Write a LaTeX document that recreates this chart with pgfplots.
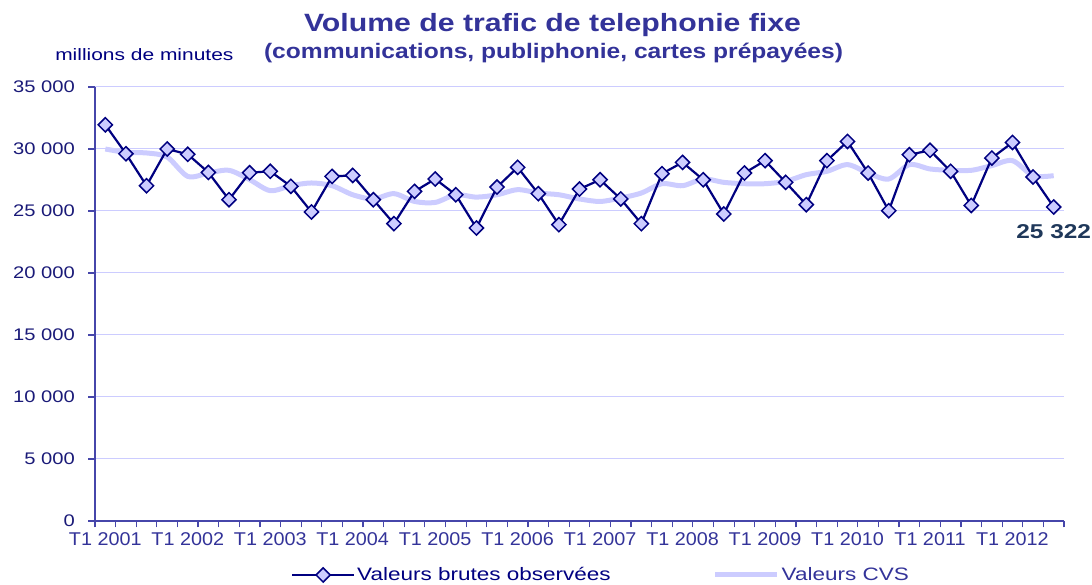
\documentclass[border=0pt]{standalone}
\usepackage{fontspec}
\setmainfont{Liberation Sans}
\usepackage{graphicx}
\usepackage{pgfplots}
\usepackage{pgfplotstable}
\pgfplotsset{compat=1.18}
\definecolor{navyc}{RGB}{0,0,128}
\definecolor{titlec}{RGB}{51,51,153}
\definecolor{cvsc}{RGB}{204,204,255}
\definecolor{axisc}{RGB}{70,70,170}
\definecolor{gridc}{RGB}{204,204,255}
\definecolor{ytc}{RGB}{26,26,120}
\definecolor{labc}{RGB}{31,56,90}

\pgfplotstableread{
x raw cvs
0 31950 30000
1 29620 29730
2 27040 29680
3 30000 29350
4 29570 27790
5 28110 28060
6 25910 28280
7 28090 27530
8 28200 26640
9 26990 27040
10 24920 27260
11 27790 27040
12 27870 26310
13 25910 25970
14 23980 26400
15 26580 25770
16 27580 25690
17 26310 26310
18 23630 26120
19 26930 26310
20 28520 26720
21 26400 26450
22 23900 26310
23 26770 25970
24 27520 25770
25 25970 26050
26 23980 26450
27 28010 27200
28 28920 27040
29 27520 27580
30 24760 27310
31 28060 27200
32 29060 27200
33 27310 27390
34 25510 27930
35 29060 28200
36 30610 28740
37 28060 28060
38 25020 27580
39 29540 28740
40 29890 28390
41 28200 28280
42 25450 28280
43 29270 28660
44 30530 29060
45 27740 27850
46 25322 27850
}\data

\begin{document}
\begin{tikzpicture}
\useasboundingbox (-95pt,-64pt) rectangle (997pt,521pt);
\begin{axis}[
  at={(0,0)}, anchor=south west,
  scale only axis, width=969pt, height=434pt,
  xmin=-0.5, xmax=46.5, ymin=0, ymax=35000,
  axis x line=bottom, axis y line=left,
  axis line style={axisc, line width=1.3pt, -},
  clip=false,
  ytick={0,5000,...,35000},
  minor ytick={0,5000,...,35000},
  xtick={0,4,...,44},
  xticklabels={T1 2001,T1 2002,T1 2003,T1 2004,T1 2005,T1 2006,T1 2007,T1 2008,T1 2009,T1 2010,T1 2011,T1 2012},
  minor xtick={-0.5,0.5,...,46.5},
  major tick length=0pt,
  minor tick length=6.5pt,
  tick align=outside,
  tick style={axisc, line width=1.2pt},
  minor tick style={axisc, line width=1.2pt},
  ymajorgrids, grid style={gridc, line width=1pt},
  yminorgrids=false,
  scaled y ticks=false,
  /pgf/number format/.cd, 1000 sep={\ }, assume math mode=true,
  /pgfplots/.cd,
  yticklabel style={inner sep=0pt, anchor=east, xshift=-20pt, xscale=1.2, text=ytc, font=\fontsize{16.8}{18}\selectfont},
  xticklabel style={inner sep=0pt, anchor=north, yshift=-11pt, xscale=1.07, text=titlec, font=\fontsize{18.5}{20}\selectfont},
  legend columns=2,
  reverse legend,
  legend image code/.code={\draw[mark repeat=2,mark phase=2,#1] plot coordinates {(0pt,0pt) (31pt,0pt) (62pt,0pt)};},
  legend style={draw=none, fill=none, at={(0.199,-0.1244)}, anchor=west,
    font=\fontsize{18}{20}\selectfont,
    /tikz/every even column/.append style={column sep=100pt}},
]
\addplot[cvsc, line width=5pt, smooth, tension=0.5, no marks] table[x=x,y=cvs]{\data};
\addlegendentry{\scalebox{1.25}[1]{\textcolor{titlec}{Valeurs CVS}}}
\addplot[navyc, line width=2.2pt, mark=square*, mark size=5pt,
  mark options={rotate=45, fill=cvsc, draw=navyc, line width=1.5pt, solid}] table[x=x,y=raw]{\data};
\addlegendentry{\scalebox{1.25}[1]{\textcolor{navyc}{Valeurs brutes observées}}}
\node[font=\fontsize{20}{22}\selectfont\bfseries, text=labc, xscale=1.22] at (axis cs:46,23300) {25 322};
\end{axis}
\node[anchor=base, text=titlec, font=\fontsize{25}{28}\selectfont\bfseries, xscale=1.21] at (457.5pt,489.3pt) {Volume de trafic de telephonie fixe};
\node[anchor=base, text=titlec, font=\fontsize{21}{24}\selectfont\bfseries, xscale=1.17] at (458.5pt,462.7pt) {(communications, publiphonie, cartes prépayées)};
\node[anchor=base west, inner sep=0pt, text=navyc, font=\fontsize{16.5}{18}\selectfont, xscale=1.27] at (-40pt,460pt) {millions de minutes};
\end{tikzpicture}
\end{document}
